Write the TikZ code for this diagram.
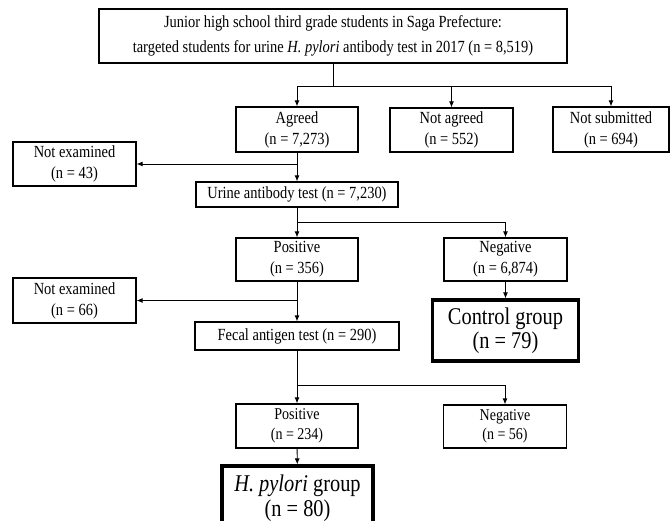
\documentclass[tikz,border=0pt]{standalone}
\usepackage{fontspec}
\setmainfont{Liberation Serif}[FakeStretch=0.85]
\usetikzlibrary{arrows.meta}

\begin{document}
\begin{tikzpicture}[x=1pt,y=-1pt,
    flowbox/.style={draw, line width=1.2pt, inner sep=0pt, align=center,
      font=\fontsize{17}{21}\selectfont},
    groupbox/.style={draw, line width=3.2pt, inner sep=0pt, align=center,
      font=\fontsize{24}{24}\selectfont},
    link/.style={line width=0.9pt},
    arr/.style={link, -{Latex[length=6pt,width=5pt]}}]

    \useasboundingbox (0,0) rectangle (670,521);
    \clip (0,0) rectangle (670,521);

    % boxes
    \node[flowbox, minimum width=468pt, minimum height=54pt,
      font=\fontsize{17}{25}\selectfont] (target) at (333,36)
      {Junior high school third grade students in Saga Prefecture:\\
       targeted students for urine \textit{H. pylori} antibody test in 2017 (n = 8,519)};

    \node[flowbox, minimum width=122pt, minimum height=45pt] (agreed) at (297,129.5) {Agreed\\(n = 7,273)};
    \node[flowbox, minimum width=123pt, minimum height=44pt] (notagreed) at (451.5,130) {Not agreed\\(n = 552)};
    \node[flowbox, minimum width=116pt, minimum height=45pt] (notsub) at (611,129.5) {Not submitted\\(n = 694)};
    \node[flowbox, minimum width=123pt, minimum height=44pt] (notex1) at (74.5,164) {Not examined\\(n = 43)};
    \node[flowbox, minimum width=202pt, minimum height=25pt] (urine) at (297,194.5) {Urine antibody test (n = 7,230)};

    \node[flowbox, minimum width=122pt, minimum height=43pt] (pos1) at (297,259.5) {Positive\\(n = 356)};
    \node[flowbox, minimum width=123pt, minimum height=43pt] (neg1) at (505.5,259.5) {Negative\\(n = 6,874)};
    \node[flowbox, minimum width=123pt, minimum height=45pt] (notex2) at (74.5,300.5) {Not examined\\(n = 66)};
    \node[flowbox, minimum width=204pt, minimum height=28pt] (fecal) at (297,336) {Fecal antigen test (n = 290)};
    \node[groupbox, minimum width=146pt, minimum height=61pt] (control) at (505.5,330.5) {Control group\\(n = 79)};

    \node[flowbox, minimum width=122pt, minimum height=44pt,
      font=\fontsize{16.5}{19.5}\selectfont] (pos2) at (297,426) {Positive\\(n = 234)};
    \node[flowbox, minimum width=123pt, minimum height=43pt,
      font=\fontsize{16.5}{19.5}\selectfont] (neg2) at (505,426.5) {Negative\\(n = 56)};
    \node[groupbox, minimum width=151pt, minimum height=64pt,
      font=\fontsize{24}{25}\selectfont] (hpyl) at (297.5,498) {\textit{H. pylori} group\\(n = 80)};

    % junctions
    \coordinate (b0) at (333,86);
    \coordinate (b2) at (297,222);
    \coordinate (b4) at (297,385);

    % connectors
    \draw[link] (target) -- (b0);
    \draw[link] (agreed.north |- b0) -- (notsub.north |- b0);
    \foreach \n in {agreed,notagreed,notsub}
      \draw[arr] (\n.north |- b0) -- (\n);

    \draw[arr] (agreed) -- (urine);
    \draw[arr] (agreed.south |- notex1) -- (notex1);

    \draw[arr] (urine) -- (pos1);
    \draw[link] (b2) -- (b2 -| neg1);
    \draw[arr] (b2 -| neg1) -- (neg1);
    \draw[arr] (neg1) -- (control);

    \draw[arr] (pos1) -- (fecal);
    \draw[arr] (pos1.south |- notex2) -- (notex2);

    \draw[arr] (fecal) -- (pos2);
    \draw[link] (b4) -- (b4 -| neg2);
    \draw[arr] (b4 -| neg2) -- (neg2);
    \draw[arr] (pos2) -- (hpyl);

\end{tikzpicture}
\end{document}
